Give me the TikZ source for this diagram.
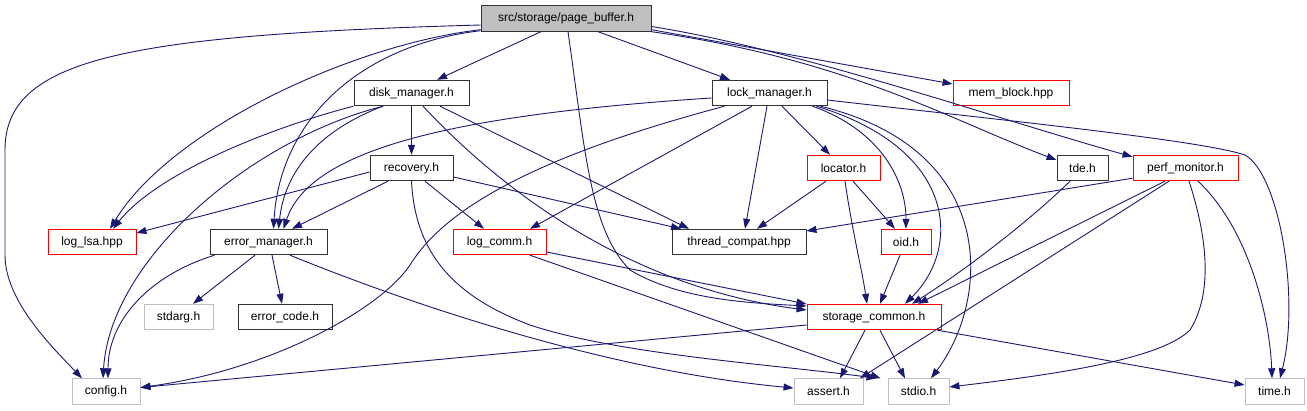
\documentclass[tikz,border=0pt]{standalone}
\usepackage{fontspec}
\setmainfont{Liberation Sans}
\usetikzlibrary{arrows.meta,calc}
\definecolor{edgec}{HTML}{191970}
\definecolor{redb}{HTML}{FF0000}
\definecolor{grayb}{HTML}{BFBFBF}
\begin{document}
\begin{tikzpicture}[x=1pt,y=-1pt,
  box/.style={draw=black!80, line width=0.9pt, inner sep=0pt, minimum height=25.5pt, font=\fontsize{12}{14}\selectfont, text=black},
  redbox/.style={box, draw=redb},
  graybox/.style={box, draw=grayb},
  dep/.style={draw=edgec, line width=0.9pt, -{Triangle[length=10pt,width=7pt]}}]
\useasboundingbox (0,0) rectangle (1307,411);
% nodes
\node[box, fill=grayb, minimum width=170pt] (pb) at (566,18.5) {src/storage/page\_buffer.h};
\node[box, minimum width=115pt] (dm) at (411.5,93) {disk\_manager.h};
\node[box, minimum width=115pt] (lm) at (769.5,93) {lock\_manager.h};
\node[redbox, minimum width=116pt] (mb) at (1011,93) {mem\_block.hpp};
\node[box, minimum width=83pt] (rec) at (411.5,168) {recovery.h};
\node[redbox, minimum width=73pt] (loc) at (843.5,168) {locator.h};
\node[box, minimum width=51pt] (tde) at (1082.5,168) {tde.h};
\node[redbox, minimum width=105pt] (pm) at (1185.5,168) {perf\_monitor.h};
\node[redbox, minimum width=88pt] (lsa) at (92,242) {log\_lsa.hpp};
\node[box, minimum width=117pt] (em) at (268.5,242) {error\_manager.h};
\node[redbox, minimum width=93pt] (lc) at (499.5,242) {log\_comm.h};
\node[box, minimum width=134pt] (tc) at (739,242) {thread\_compat.hpp};
\node[redbox, minimum width=50pt] (oid) at (906,242) {oid.h};
\node[graybox, minimum width=69pt] (sa) at (178.5,317) {stdarg.h};
\node[box, minimum width=94pt] (ec) at (285,317) {error\_code.h};
\node[redbox, minimum width=134pt] (sc) at (874,317) {storage\_common.h};
\node[graybox, minimum width=68pt] (cfg) at (106,391.5) {config.h};
\node[graybox, minimum width=69pt] (as) at (828.5,391.5) {assert.h};
\node[graybox, minimum width=61pt] (sio) at (918.5,391.5) {stdio.h};
\node[graybox, minimum width=59pt] (tm) at (1274.5,391.5) {time.h};
% page_buffer
\draw[dep] ($(pb.west)+(0,6.5)$) .. controls (120,35) and (5,60) .. (5,150) -- (5,255) .. controls (5,300) and (50,345) .. ($(cfg.north)+(-24,0)$);
\draw[dep] ($(pb.south west)+(0,-2)$) .. controls (350,45) and (170,130) .. ($(lsa.north)+(18,0)$);
\draw[dep] ($(pb.south west)+(0,-1)$) .. controls (360,45) and (280,120) .. ($(em.north)+(5,0)$);
\draw[dep] ($(pb.south)+(-25,0)$) -- ($(dm.north)+(25.5,0)$);
\draw[dep] ($(pb.south)+(2,0)$) .. controls (585,150) and (590,230) .. (630,270) .. controls (680,300) and (750,303) .. ($(sc.west)+(0,-11)$);
\draw[dep] ($(pb.south)+(32,0)$) -- ($(lm.north)+(-39.5,0)$);
\draw[dep] ($(pb.south east)+(0,-2)$) -- ($(mb.west)+(0,-9)$);
\draw[dep] (pb.south east) .. controls (850,60) and (950,120) .. ($(tde.west)+(0,-8)$);
\draw[dep] ($(pb.east)+(0,8)$) .. controls (800,50) and (1000,120) .. ($(pm.north west)+(0,2)$);
% disk_manager
\draw[dep] (dm.south west) .. controls (280,125) and (160,170) .. ($(lsa.north)+(21,0)$);
\draw[dep] ($(dm.south)+(-28.5,0)$) .. controls (320,130) and (285,170) .. ($(em.north)+(10,0)$);
\draw[dep] ($(dm.south)+(-28.5,0)$) .. controls (250,140) and (110,260) .. ($(cfg.north)+(-3,0)$);
\draw[dep] (dm.south) -- (rec.north);
\draw[dep] ($(dm.south)+(11.5,0)$) .. controls (520,210) and (650,290) .. ($(sc.west)+(0,-7)$);
\draw[dep] ($(dm.south)+(28.5,0)$) -- ($(tc.north)+(-50,0)$);
% lock_manager
\draw[dep] ($(lm.west)+(0,5)$) .. controls (450,115) and (310,150) .. ($(em.north)+(15,0)$);
\draw[dep] ($(lm.south west)+(13,0)$) .. controls (560,150) and (450,200) .. (410,265) .. controls (380,310) and (270,370) .. ($(cfg.east)+(0,-4)$);
\draw[dep] ($(lm.south)+(-17.5,0)$) -- ($(lc.north)+(30.5,0)$);
\draw[dep] ($(lm.south)+(-2.5,0)$) -- ($(tc.north)+(6,0)$);
\draw[dep] ($(lm.south)+(12.5,0)$) -- ($(loc.north)+(-13.5,0)$);
\draw[dep] ($(lm.south east)+(-15,0)$) .. controls (880,130) and (906,180) .. (oid.north);
\draw[dep] ($(lm.south east)+(-11,0)$) .. controls (960,150) and (960,250) .. ($(sc.north)+(31,0)$);
\draw[dep] ($(lm.south east)+(-7,0)$) .. controls (1000,150) and (990,300) .. ($(sio.north)+(12.5,0)$);
\draw[dep] ($(lm.east)+(0,7)$) .. controls (1000,120) and (1200,140) .. (1245,155) .. controls (1280,175) and (1300,300) .. ($(tm.north)+(5.5,0)$);
% locator, oid, tde
\draw[dep] ($(loc.south)+(-17.5,0)$) -- ($(tc.north)+(18,0)$);
\draw[dep] ($(loc.south)+(9.5,0)$) -- ($(oid.north)+(-11,0)$);
\draw[dep] ($(loc.south)+(1.5,0)$) .. controls (852,230) and (862,270) .. ($(sc.north)+(-7,0)$);
\draw[dep] ($(oid.south)+(-6,0)$) -- ($(sc.north)+(6,0)$);
\draw[dep] ($(tde.south)+(-12.5,0)$) .. controls (1020,230) and (950,280) .. ($(sc.north)+(38,0)$);
% perf_monitor
\draw[dep] ($(pm.south west)+(0,-3)$) -- ($(tc.east)+(0,-11)$);
\draw[dep] ($(pm.south)+(-20.5,0)$) -- ($(sc.north)+(44,0)$);
\draw[dep] ($(pm.south)+(-16.5,0)$) -- ($(as.north)+(31.5,0)$);
\draw[dep] ($(pm.south)+(3.5,0)$) .. controls (1205,230) and (1215,290) .. (1190,330) .. controls (1160,360) and (1050,375) .. ($(sio.east)+(0,-4.5)$);
\draw[dep] ($(pm.south)+(12.5,0)$) .. controls (1250,230) and (1270,320) .. ($(tm.north)+(-2.5,0)$);
% recovery
\draw[dep] ($(rec.west)+(0,4)$) -- ($(lsa.east)+(0,-9)$);
\draw[dep] ($(rec.south)+(-23.5,0)$) -- ($(em.north)+(23.5,0)$);
\draw[dep] ($(rec.south)+(13.5,0)$) -- ($(lc.north)+(-15.5,0)$);
\draw[dep] ($(rec.east)+(0,9)$) -- ($(tc.north)+(-58,0)$);
\draw[dep] (rec.south) .. controls (415,250) and (450,295) .. (530,325) .. controls (620,355) and (780,365) .. ($(sio.north)+(-42,0)$);
% error_manager
\draw[dep] ($(em.south west)+(5,0)$) .. controls (150,275) and (108,320) .. ($(cfg.north)+(2,0)$);
\draw[dep] ($(em.south)+(-13.5,0)$) -- ($(sa.north)+(14.5,0)$);
\draw[dep] ($(em.south)+(3.5,0)$) -- ($(ec.north)+(-3,0)$);
\draw[dep] ($(em.south)+(21.5,0)$) .. controls (400,300) and (600,370) .. ($(as.west)+(0,-3.5)$);
% log_comm
\draw[dep] ($(lc.east)+(0,10)$) -- ($(sc.west)+(0,-13)$);
\draw[dep] ($(lc.south)+(30.5,0)$) -- ($(sio.north)+(-38,0)$);
% storage_common
\draw[dep] ($(sc.west)+(0,8)$) -- ($(cfg.east)+(0,-4)$);
\draw[dep] ($(sc.south)+(-9,0)$) -- ($(as.north)+(11.5,0)$);
\draw[dep] ($(sc.south)+(6,0)$) -- ($(sio.north)+(-13.5,0)$);
\draw[dep] ($(sc.south east)+(-4,0)$) -- ($(tm.west)+(0,-6.5)$);
\end{tikzpicture}
\end{document}
